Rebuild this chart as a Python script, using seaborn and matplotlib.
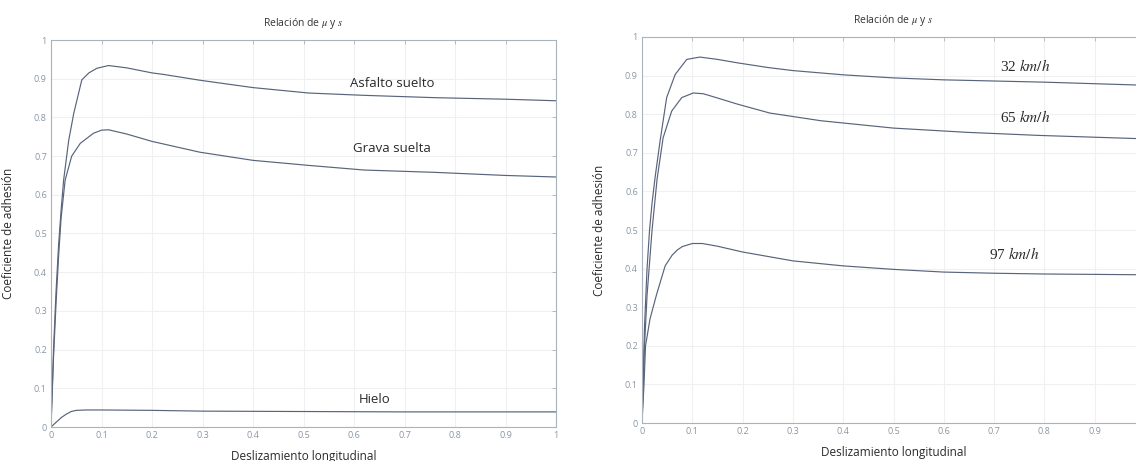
import numpy as np
import pandas as pd
import matplotlib
matplotlib.use("Agg")
import matplotlib.pyplot as plt
import seaborn as sns

# ---- data ----
s_asfalto = [0, 0.005, 0.01, 0.015, 0.02, 0.025, 0.035, 0.045, 0.061, 0.075, 0.091, 0.114,
             0.15, 0.2, 0.223, 0.295, 0.4, 0.51, 0.62, 0.76, 0.9, 1.0]
mu_asfalto = [0, 0.2, 0.35, 0.47, 0.56, 0.638, 0.74, 0.81, 0.897, 0.915, 0.927, 0.934,
              0.928, 0.915, 0.911, 0.896, 0.877, 0.863, 0.857, 0.851, 0.847, 0.843]

s_grava = [0, 0.005, 0.01, 0.015, 0.02, 0.028, 0.041, 0.058, 0.084, 0.1, 0.114,
           0.15, 0.2, 0.295, 0.4, 0.51, 0.62, 0.76, 0.9, 1.0]
mu_grava = [0, 0.18, 0.32, 0.44, 0.54, 0.638, 0.70, 0.733, 0.759, 0.767, 0.768,
            0.757, 0.738, 0.71, 0.689, 0.676, 0.664, 0.658, 0.65, 0.646]

s_hielo = [0, 0.01, 0.02, 0.03, 0.04, 0.05, 0.07, 0.1, 0.2, 0.3, 0.5, 0.7, 1.0]
mu_hielo = [0, 0.012, 0.024, 0.033, 0.04, 0.043, 0.044, 0.044, 0.043, 0.041, 0.040, 0.039, 0.039]

s_32 = [0, 0.005, 0.01, 0.015, 0.02, 0.026, 0.036, 0.049, 0.066, 0.089, 0.115, 0.15, 0.19,
        0.25, 0.3, 0.4, 0.5, 0.6, 0.7, 0.8, 0.9, 1.0]
mu_32 = [0, 0.25, 0.4, 0.5, 0.57, 0.636, 0.731, 0.843, 0.903, 0.942, 0.948, 0.942, 0.933,
         0.921, 0.913, 0.902, 0.894, 0.889, 0.886, 0.883, 0.879, 0.875]

s_65 = [0, 0.005, 0.01, 0.02, 0.03, 0.042, 0.059, 0.079, 0.102, 0.122, 0.155, 0.19,
        0.254, 0.356, 0.5, 0.646, 0.79, 0.98, 1.0]
mu_65 = [0, 0.2, 0.33, 0.5, 0.632, 0.739, 0.808, 0.843, 0.855, 0.853, 0.84, 0.826,
         0.803, 0.783, 0.764, 0.753, 0.745, 0.737, 0.737]

s_97 = [0, 0.004, 0.007, 0.016, 0.029, 0.046, 0.06, 0.07, 0.08, 0.1, 0.12, 0.15, 0.2,
        0.3, 0.4, 0.5, 0.6, 0.7, 0.8, 0.9, 1.0]
mu_97 = [0, 0.1, 0.2, 0.27, 0.333, 0.407, 0.435, 0.448, 0.457, 0.465, 0.465, 0.458, 0.443,
         0.42, 0.407, 0.398, 0.391, 0.388, 0.386, 0.385, 0.384]

left_labels = ["Asfalto suelto", "Grava suelta", "Hielo"]
right_labels = ["32 $km/h$", "65 $km/h$", "97 $km/h$"]
xticks = [0, 0.1, 0.2, 0.3, 0.4, 0.5, 0.6, 0.7, 0.8, 0.9, 1]
xticklabels_left = ["0", "0.1", "0.2", "0.3", "0.4", "0.5", "0.6", "0.7", "0.8", "0.9", "1"]
xticklabels_right = ["0", "0.1", "0.2", "0.3", "0.4", "0.5", "0.6", "0.7", "0.8", "0.9", ""]
yticks = xticks
yticklabels = xticklabels_left

title = "Relación de $\\mu$ y $s$"
xlabel = "Deslizamiento longitudinal"
ylabel = "Coeficiente de adhesión"

# ---- style ----
sns.set_theme(style="white")
plt.rcParams['font.family'] = ['Open Sans', 'DejaVu Sans']
plt.rcParams['mathtext.fontset'] = 'stix'

line_color = "#58647a"
tick_color = "#8a96a3"
spine_color = "#a9b3bd"
text_color = "#2a2a2a"

fig = plt.figure(figsize=(11.36, 4.61), dpi=100)
axL = fig.add_axes([51/1136, 34/461, 505/1136, 387/461])
axR = fig.add_axes([642/1136, 38/461, 503/1136, 386/461])

def df(s, mu, name):
    return pd.DataFrame({"s": s, "mu": mu, "serie": name})

dL = pd.concat([df(s_asfalto, mu_asfalto, left_labels[0]),
                df(s_grava, mu_grava, left_labels[1]),
                df(s_hielo, mu_hielo, left_labels[2])])
dR = pd.concat([df(s_32, mu_32, right_labels[0]),
                df(s_65, mu_65, right_labels[1]),
                df(s_97, mu_97, right_labels[2])])

for ax, d, xtl in [(axL, dL, xticklabels_left), (axR, dR, xticklabels_right)]:
    sns.lineplot(data=d, x="s", y="mu", units="serie", estimator=None, sort=False,
                 color=line_color, linewidth=0.85, ax=ax, legend=False)
    ax.set_xlim(0, 1)
    ax.set_ylim(0, 1)
    ax.set_xticks(xticks)
    ax.set_xticklabels(xtl)
    ax.set_yticks(yticks)
    ax.set_yticklabels(yticklabels)
    ax.grid(True, color="#eef0f2", linewidth=0.8)
    ax.tick_params(direction="in", length=3, width=0.6, colors=spine_color,
                   labelcolor=tick_color, labelsize=6.5, top=True, right=True,
                   pad=3)
    for sp in ax.spines.values():
        sp.set_color(spine_color)
        sp.set_linewidth(0.8)
    ax.set_title(title, fontsize=7.5, color="#333333", pad=10)
    ax.set_xlabel(xlabel, fontsize=8.5, color=text_color, labelpad=7)
    ax.set_ylabel(ylabel, fontsize=8.5, color=text_color, labelpad=14)

# annotations
axL.text(0.676, 0.887, left_labels[0], ha="center", va="center", fontsize=9.5, color=text_color)
axL.text(0.676, 0.719, left_labels[1], ha="center", va="center", fontsize=9.5, color=text_color)
axL.text(0.64, 0.072, left_labels[2], ha="center", va="center", fontsize=9.5, color=text_color)

for lbl, x, y in zip(right_labels, [0.762, 0.762, 0.74], [0.926, 0.794, 0.437]):
    axR.text(x, y, lbl, ha="center", va="center", fontsize=11, color=text_color,
             family=['Liberation Serif', 'DejaVu Serif'])

fig.savefig("out.png", dpi=100)
